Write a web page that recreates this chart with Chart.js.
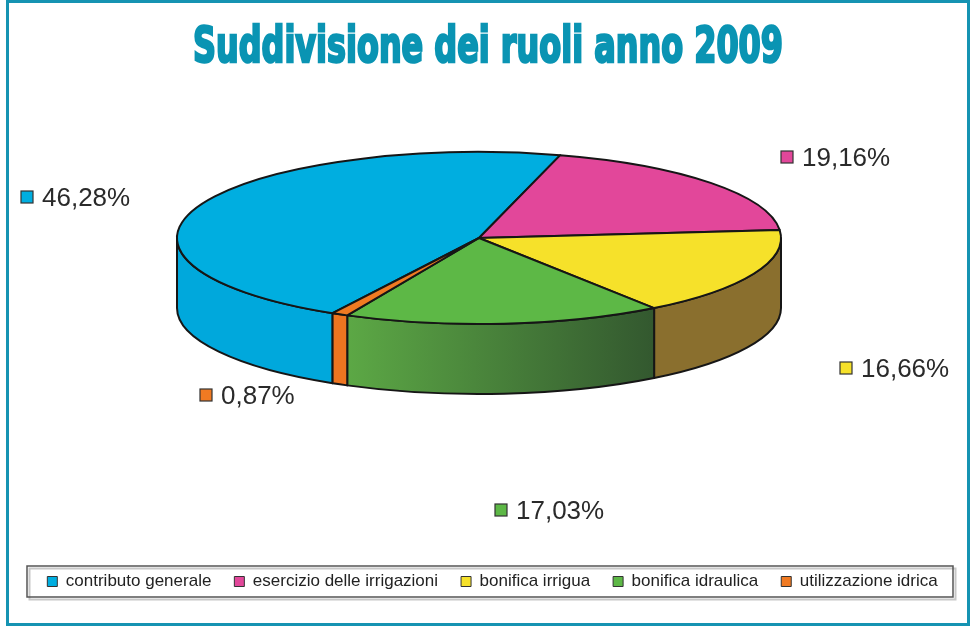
<!DOCTYPE html>
<html>
<head>
<meta charset="utf-8">
<script src="https://cdn.jsdelivr.net/npm/chart.js@4"></script>
<style>
  html, body { margin: 0; padding: 0; background: #ffffff; }
  #wrap { width: 971px; height: 627px; position: relative; }
</style>
</head>
<body>
<div id="wrap"><canvas id="c" width="971" height="627"></canvas></div>
<script>
// ---------------- data ----------------
const TITLE = 'Suddivisione dei ruoli anno 2009';
const CATEGORIES = ['contributo generale', 'esercizio delle irrigazioni', 'bonifica irrigua', 'bonifica idraulica', 'utilizzazione idrica'];
const VALUES = [46.28, 19.16, 16.66, 17.03, 0.87];

// ---------------- styles ----------------
const TOP_COLORS  = ['#00aee0', '#e2479a', '#f6e12a', '#5db846', '#f07a22'];
const SIDE_COLORS = ['#00a8dc', '#b8347c', '#8a6f2e', ['#5ca845', '#33582f'], '#ee7520'];
const OUTLINE = '#161616';

// ---------------- layout ----------------
const PIE = { cx: 479, cy: 238, rx: 302, ry: 86, depth: 70, rotation: 209 };
// value label anchors (marker centre) in canvas px
const LABEL_POS = [[27, 197], [787, 157], [846, 368], [501, 510], [206, 395]];
const LEGEND_BOX = { x: 27, y: 566, w: 926, h: 31 };
const FRAME = { x: 7.5, y: 1.5, w: 961, h: 623, color: '#1593b2', width: 3 };
const TITLE_BOX = { cx: 488, baseline: 62, width: 590, size: 50, color: '#0a94b3' };

function fmtPct(v) { return v.toFixed(2).replace('.', ',') + '%'; }

function drawValueLabels(chart) {
  const ctx = chart.ctx;
  const vals = chart.data.datasets[0].data;
  ctx.save();
  ctx.font = '26px "Liberation Sans", Arial, sans-serif';
  ctx.textBaseline = 'middle';
  ctx.textAlign = 'left';
  vals.forEach((v, i) => {
    const [mx, my] = LABEL_POS[i];
    ctx.fillStyle = TOP_COLORS[i];
    ctx.fillRect(mx - 6, my - 6, 12, 12);
    ctx.lineWidth = 1.2;
    ctx.strokeStyle = '#333';
    ctx.strokeRect(mx - 6, my - 6, 12, 12);
    ctx.fillStyle = '#2a2a2a';
    ctx.fillText(fmtPct(v), mx + 15, my + 2);
  });
  ctx.restore();
}

const pie3d = {
  id: 'pie3d',
  beforeDatasetsDraw(chart) {
    const ctx = chart.ctx;
    const arcs = chart.getDatasetMeta(0).data;
    const { cx, cy, rx, ry, depth } = PIE;
    ctx.save();
    ctx.lineWidth = 2;
    ctx.strokeStyle = OUTLINE;
    ctx.lineJoin = 'round';
    // walls (front half only)
    arcs.forEach((arc, i) => {
      const s = arc.startAngle, e = arc.endAngle;
      for (let k = -1; k <= 2; k++) {
        const lo = k * 2 * Math.PI, hi = lo + Math.PI;
        const a = Math.max(s, lo), b = Math.min(e, hi);
        if (b <= a) continue;
        ctx.beginPath();
        ctx.ellipse(cx, cy, rx, ry, 0, a, b, false);
        ctx.ellipse(cx, cy + depth, rx, ry, 0, b, a, true);
        ctx.closePath();
        const sc = SIDE_COLORS[i];
        if (Array.isArray(sc)) {
          const x1 = cx + rx * Math.cos(a), x2 = cx + rx * Math.cos(b);
          const g = ctx.createLinearGradient(Math.min(x1, x2), 0, Math.max(x1, x2), 0);
          g.addColorStop(0, sc[0]);
          g.addColorStop(1, sc[1]);
          ctx.fillStyle = g;
        } else {
          ctx.fillStyle = sc;
        }
        ctx.fill();
        ctx.stroke();
      }
    });
    // top faces
    arcs.forEach((arc, i) => {
      ctx.beginPath();
      ctx.moveTo(cx, cy);
      ctx.ellipse(cx, cy, rx, ry, 0, arc.startAngle, arc.endAngle, false);
      ctx.closePath();
      ctx.fillStyle = arc.options.backgroundColor;
      ctx.fill();
      ctx.stroke();
    });
    ctx.restore();
    return false;
  },
  beforeDraw(chart) {
    const ctx = chart.ctx;
    ctx.save();
    ctx.fillStyle = '#ffffff';
    ctx.fillRect(0, 0, chart.width, chart.height);
    ctx.restore();
  },
  afterDraw(chart) {
    drawValueLabels(chart);
    const ctx = chart.ctx;
    ctx.save();
    // legend frame with light shadow
    const b = LEGEND_BOX;
    ctx.strokeStyle = '#c8c8c8';
    ctx.lineWidth = 2;
    ctx.strokeRect(b.x + 2.5, b.y + 2.5, b.w, b.h);
    ctx.strokeStyle = '#555';
    ctx.lineWidth = 1.5;
    ctx.strokeRect(b.x, b.y, b.w, b.h);
    // outer frame
    ctx.strokeStyle = FRAME.color;
    ctx.lineWidth = FRAME.width;
    ctx.strokeRect(FRAME.x, FRAME.y, FRAME.w, FRAME.h);
    // title (condensed heavy look)
    const t = TITLE_BOX;
    ctx.font = 'bold ' + t.size + 'px "DejaVu Sans Condensed", "DejaVu Sans", sans-serif';
    const w = ctx.measureText(TITLE).width;
    const sx = t.width / w;
    ctx.translate(t.cx, t.baseline);
    ctx.scale(sx, 1);
    ctx.fillStyle = t.color;
    ctx.textAlign = 'center';
    ctx.textBaseline = 'alphabetic';
    ctx.lineWidth = 2.5;
    ctx.strokeStyle = t.color;
    ctx.strokeText(TITLE, 0, 0);
    ctx.fillText(TITLE, 0, 0);
    ctx.restore();
  }
};

new Chart(document.getElementById('c'), {
  type: 'pie',
  data: {
    labels: CATEGORIES,
    datasets: [{
      data: VALUES,
      backgroundColor: TOP_COLORS,
      borderColor: '#333333',
      borderWidth: 1
    }]
  },
  options: {
    responsive: false,
    devicePixelRatio: 1,
    animation: false,
    rotation: PIE.rotation,
    layout: { padding: { left: 14, right: 0, top: 90, bottom: 27 } },
    plugins: {
      title: { display: false, text: TITLE },
      tooltip: { enabled: false },
      legend: {
        display: true,
        position: 'bottom',
        labels: {
          boxWidth: 10,
          boxHeight: 10,
          padding: 23,
          color: '#222222',
          font: { family: '"Liberation Sans", Arial, sans-serif', size: 17 }
        }
      }
    }
  },
  plugins: [pie3d]
});
</script>
</body>
</html>
